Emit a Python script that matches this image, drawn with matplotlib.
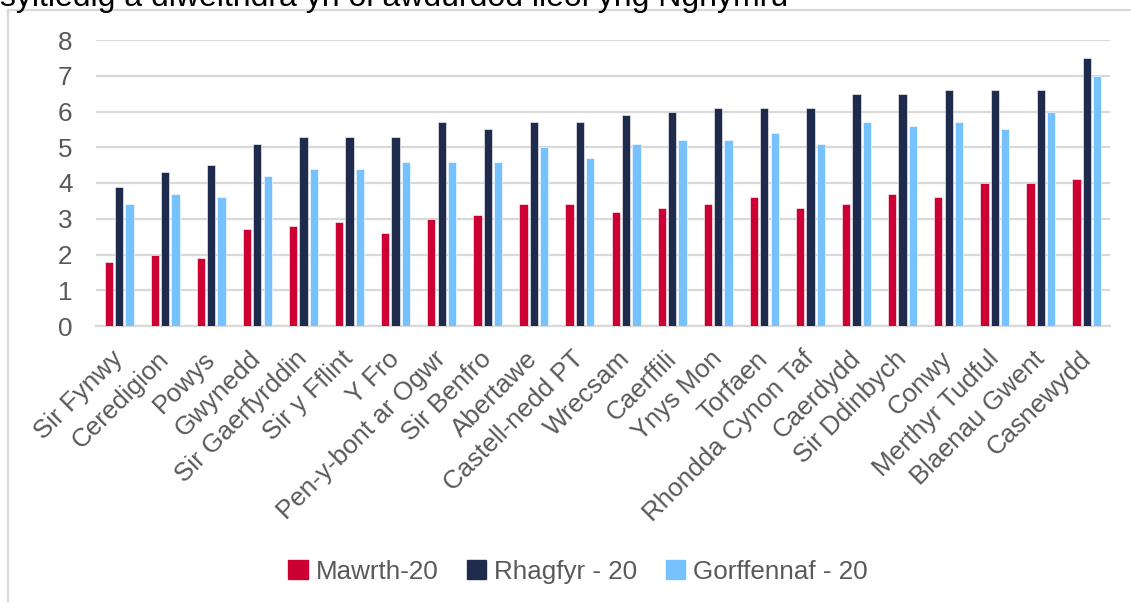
import matplotlib.pyplot as plt
from matplotlib.lines import Line2D
import numpy as np

# awdurdodau lleol
areas = ['Sir Fynwy', 'Ceredigion', 'Powys', 'Gwynedd', 'Sir Gaerfyrddin', 'Sir y Fflint',
         'Y Fro', 'Pen-y-bont ar Ogwr', 'Sir Benfro', 'Abertawe', 'Castell-nedd PT',
         'Wrecsam', 'Caerffili', 'Ynys Mon', 'Torfaen', 'Rhondda Cynon Taf', 'Caerdydd',
         'Sir Ddinbych', 'Conwy', 'Merthyr Tudful', 'Blaenau Gwent', 'Casnewydd']
mawrth = [1.8, 2.0, 1.9, 2.7, 2.8, 2.9, 2.6, 3.0, 3.1, 3.4, 3.4,
          3.2, 3.3, 3.4, 3.6, 3.3, 3.4, 3.7, 3.6, 4.0, 4.0, 4.1]
rhagfyr = [3.9, 4.3, 4.5, 5.1, 5.3, 5.3, 5.3, 5.7, 5.5, 5.7, 5.7,
           5.9, 6.0, 6.1, 6.1, 6.1, 6.5, 6.5, 6.6, 6.6, 6.6, 7.5]
gorffennaf = [3.4, 3.7, 3.6, 4.2, 4.4, 4.4, 4.6, 4.6, 4.6, 5.0, 4.7,
              5.1, 5.2, 5.2, 5.4, 5.1, 5.7, 5.6, 5.7, 5.5, 6.0, 7.0]
series_names = ['Mawrth-20', 'Rhagfyr - 20', 'Gorffennaf - 20']
colours = ['#CC0033', '#1F2B4D', '#75C2FF']

title = 'syltiedig a diweithdra yn ôl awdurdod lleol yng Nghymru'

plt.rcParams['font.family'] = ['Liberation Sans', 'DejaVu Sans']
grey = '#595959'
fs = 18.7

W, H = 1131, 602
fig = plt.figure(figsize=(W / 100, H / 100), dpi=100)
ax = fig.add_axes([96 / W, 276 / H, 1014 / W, 286 / H])

x = np.arange(len(areas))
bw = 0.18
step = 0.225
for i, vals in enumerate([mawrth, rhagfyr, gorffennaf]):
    ax.bar(x + (i - 1) * step, vals, width=bw, color=colours[i],
           edgecolor='white', linewidth=0.4, zorder=3)

ax.set_ylim(0, 8)
ax.set_xlim(-0.5, len(areas) - 0.5)
ax.set_yticks(range(0, 9))
ax.yaxis.grid(True, color='#D9D9D9', linewidth=1.6, zorder=0)
for s in ['top', 'right', 'left']:
    ax.spines[s].set_visible(False)
ax.spines['bottom'].set_color('#D9D9D9')
ax.spines['bottom'].set_linewidth(1.6)
ax.tick_params(axis='both', length=0, labelsize=fs, labelcolor=grey)
ax.tick_params(axis='y', pad=17)
ax.set_xticks(x)
ax.set_xticklabels(areas, rotation=45, ha='right', va='center',
                   rotation_mode='anchor')
ax.tick_params(axis='x', pad=21)

# ffram y siart
fig.add_artist(Line2D([8 / W, 8 / W], [0, 1 - 10 / H], color='#D9D9D9', lw=1.6))
fig.add_artist(Line2D([8 / W, 1], [1 - 10 / H, 1 - 10 / H], color='#D9D9D9', lw=1.6))

fig.text(0, 1 - 6 / H, title, fontsize=23, color='black', va='baseline', ha='left')

handles = [plt.Rectangle((0, 0), 1, 1, color=c) for c in colours]
fig.legend(handles, series_names, loc='center', bbox_to_anchor=(578 / W, 1 - 572 / H),
           ncol=3, frameon=False, fontsize=fs, labelcolor=grey,
           handlelength=0.75, handleheight=0.75, handletextpad=0.3, columnspacing=1.1)

fig.savefig('out.png', dpi=100)
